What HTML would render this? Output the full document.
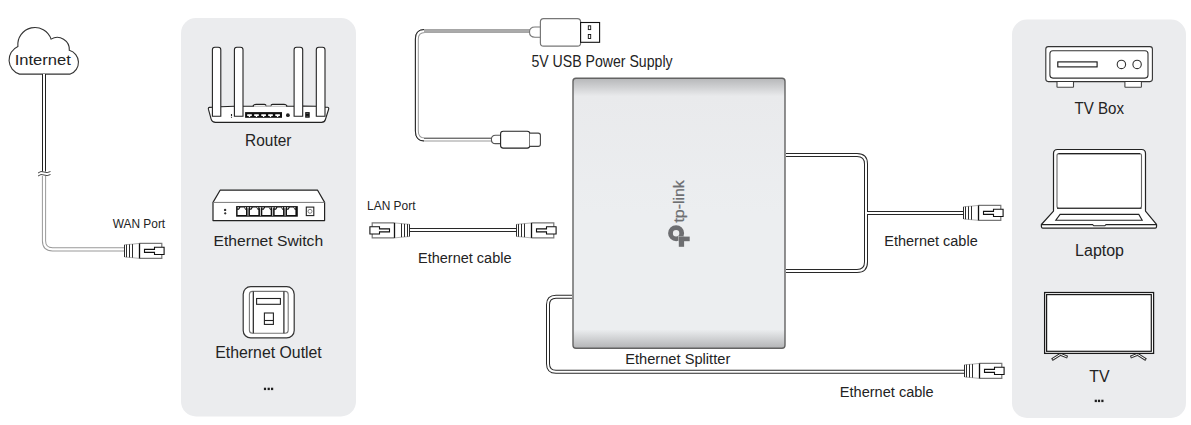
<!DOCTYPE html>
<html><head><meta charset="utf-8">
<style>
html,body{margin:0;padding:0;background:#fff;}
body{width:1191px;height:425px;overflow:hidden;position:relative;}
svg{position:absolute;left:0;top:0;display:block;}
text{font-family:"Liberation Sans",sans-serif;fill:#232323;}
</style></head><body>
<svg width="1191" height="425" viewBox="0 0 1191 425">
<defs>
<linearGradient id="spg" x1="0" y1="0" x2="0" y2="1">
<stop offset="0" stop-color="#b6b7b9"/>
<stop offset="0.066" stop-color="#e9eaec"/>
<stop offset="0.5" stop-color="#eceef0"/>
<stop offset="0.93" stop-color="#eceef0"/>
<stop offset="1" stop-color="#b3b4b6"/>
</linearGradient>
<g id="plug">
<path d="M-15,-6.1 L0,-7.5 L0,7.5 L-15,6.1 Z" fill="#fff" stroke="none"/>
<path d="M-15,-6.1 L-7,-6.8 L0,-7.5 M-15,6.1 L-7,6.8 L0,7.5" fill="none" stroke="#aaa" stroke-width="0.9"/>
<path d="M0,-7.5 H22.3 V-3.6 M22.3,3.6 V7.5 H0" fill="none" stroke="#777" stroke-width="1.2"/>
<path d="M-15,-6.1 V6.1 M-13,-6.3 V6.3 M-10,-6.5 V6.5 M-7,-6.8 V6.8" fill="none" stroke="#222" stroke-width="0.95"/>
<path d="M0,-7.5 V7.5" fill="none" stroke="#111" stroke-width="1.3"/>
<path d="M5,-1.5 H15 V-3.6 H24.6 V3.6 H15 V1.5 H5 Z" fill="#fff" stroke="#111" stroke-width="1.1"/>
</g>
</defs>

<!-- panels -->
<rect x="181" y="18" width="175" height="398.5" rx="15" fill="#ebecee"/>
<rect x="1012" y="19.5" width="174" height="398.5" rx="15" fill="#ebecee"/>

<!-- Internet cloud -->
<path d="M19.5,74.1 A14.8,14.8 0 0 1 17.9,46.4 A17.1,17.1 0 0 1 51.1,39.1 A12.1,12.1 0 0 1 69.3,50.3 A12.5,12.5 0 0 1 70.2,74.1 Z" fill="#fff" stroke="#333" stroke-width="1.1"/>
<text x="14.7" y="64.8" font-size="15.3" textLength="56.2" lengthAdjust="spacingAndGlyphs">Internet</text>

<!-- internet cable -->
<path d="M44,74 V172" fill="none" stroke="#222" stroke-width="4"/>
<path d="M44,74 V172" fill="none" stroke="#fff" stroke-width="2"/>
<path d="M44,176 V240.8 Q44,249.3 52.5,249.3 H125" fill="none" stroke="#999" stroke-width="4.2"/>
<path d="M44,176 V240.8 Q44,249.3 52.5,249.3 H125" fill="none" stroke="#fff" stroke-width="2.2"/>
<rect x="36" y="171.5" width="16" height="4.5" fill="#fff"/>
<path d="M38,173 Q41,170.5 44,172 T50.5,171.5 M38,176 Q41,173.5 44,175 T50.5,174.5" fill="none" stroke="#333" stroke-width="0.9"/>
<use href="#plug" transform="translate(139.5,250.9)"/>
<text x="112.7" y="227.6" font-size="12.4" textLength="52.5" lengthAdjust="spacingAndGlyphs">WAN Port</text>

<!-- router -->
<g stroke="#222" stroke-width="1.1" fill="#fff">
<path d="M209.5,107.4 L220.8,106.8 L234.4,106.2 L243,106.2 L253,106.2 Q254,104.4 256,104.4 L264.5,104.4 Q266,104.4 266.2,106 L270.8,106 Q271,104.4 272.5,104.4 L284,104.4 Q286,104.4 287,106.2 L294.1,106.2 L302.7,106.1 L316.3,106.3 L327.5,107.3 Q329,107.4 328.7,109 L325.4,119.5 Q324.6,122.4 321.5,122.4 L215.5,122.4 Q212.2,122.4 211.2,119.3 L208.4,109.2 Q208.1,107.5 209.5,107.4 Z" stroke="none"/>
<path d="M212.6,107.2 L209.5,107.4 Q208.1,107.5 208.4,109.2 L211.2,119.3 Q212.2,122.4 215.5,122.4 L321.5,122.4 Q324.6,122.4 325.4,119.5 L328.7,109 Q329,107.4 327.5,107.3 L325,107.2 M220.8,106.8 L234.4,106.2 M243,106.2 L254,106.2 M252.8,106 Q254,104.4 256,104.4 L264.5,104.4 Q266,104.4 266.2,106.2 M270.8,106.2 Q271,104.4 272.5,104.4 L284,104.4 Q286,104.4 287.2,106 M286,106.2 L294.1,106.2 M302.7,106.1 L316.3,106.3" fill="none"/>
<path d="M212.4,116.2 V49.7 Q212.4,47.2 214.9,47.2 H218.3 Q220.8,47.2 220.8,49.7 V116.2 Z"/>
<path d="M234.4,116.2 V49.7 Q234.4,47.2 236.9,47.2 H240.5 Q243,47.2 243,49.7 V116.2 Z"/>
<path d="M294.1,116.3 V49.7 Q294.1,47.2 296.6,47.2 H300.2 Q302.7,47.2 302.7,49.7 V116.3 Z"/>
<path d="M316.3,116.3 V49.7 Q316.3,47.2 318.8,47.2 H322.5 Q325,47.2 325,49.7 V116.3 Z"/>
</g>
<path d="M254,106.3 H286" stroke="#aaa" stroke-width="0.8"/><path d="M266,106 H271" stroke="#999" stroke-width="1.2"/>
<rect x="245.1" y="112.1" width="36.9" height="5.7" fill="#111"/>
<g fill="#fff">
<path d="M247.2,114.2 h4.6 v1.7 h-1.6 v1.1 h-1.4 v-1.1 h-1.6 z"/>
<path d="M254.2,114.2 h4.6 v1.7 h-1.6 v1.1 h-1.4 v-1.1 h-1.6 z"/>
<path d="M261.3,114.2 h4.6 v1.7 h-1.6 v1.1 h-1.4 v-1.1 h-1.6 z"/>
<path d="M268.2,114.2 h4.6 v1.7 h-1.6 v1.1 h-1.4 v-1.1 h-1.6 z"/>
<path d="M275.3,114.2 h4.6 v1.7 h-1.6 v1.1 h-1.4 v-1.1 h-1.6 z"/>
</g>
<circle cx="287.9" cy="115.2" r="1.9" fill="#222"/>
<rect x="305.2" y="112.1" width="4.5" height="5.6" fill="#111"/>
<path d="M306.3,113.5 h2.2 M306.3,116.3 h2.2" stroke="#888" stroke-width="0.6"/>
<path d="M231.5,114 V116.1 M231.5,116.8 V117.7" stroke="#222" stroke-width="1.1"/>

<!-- switch -->
<path d="M220.1,190.2 H317.6 L324.6,202.4 V220.6 H213 V202.4 Z" fill="#fff" stroke="#222" stroke-width="1.2" stroke-linejoin="round"/>
<path d="M213,202.4 H324.6" stroke="#777" stroke-width="1"/>
<rect x="236.1" y="206.1" width="61.7" height="10.6" fill="#111"/>
<path d="M237.60,214.9 V209.7 H239.00 L240.40,207.4 H244.00 L245.40,209.7 H246.00 V214.9 Z" fill="#fff"/>
<path d="M237.60,207.3 H239.20 L238.60,208.5 H237.60 Z M244.50,207.3 H246.00 V208.5 H245.30 Z" fill="#fff"/>
<path d="M246.80,207.3 H249.20 L248.40,208.5 V215.8 H247.60 V208.5 Z" fill="#fff"/>
<path d="M249.95,214.9 V209.7 H251.35 L252.75,207.4 H256.35 L257.75,209.7 H258.35 V214.9 Z" fill="#fff"/>
<path d="M249.95,207.3 H251.55 L250.95,208.5 H249.95 Z M256.85,207.3 H258.35 V208.5 H257.65 Z" fill="#fff"/>
<path d="M259.15,207.3 H261.55 L260.75,208.5 V215.8 H259.95 V208.5 Z" fill="#fff"/>
<path d="M262.30,214.9 V209.7 H263.70 L265.10,207.4 H268.70 L270.10,209.7 H270.70 V214.9 Z" fill="#fff"/>
<path d="M262.30,207.3 H263.90 L263.30,208.5 H262.30 Z M269.20,207.3 H270.70 V208.5 H270.00 Z" fill="#fff"/>
<path d="M271.50,207.3 H273.90 L273.10,208.5 V215.8 H272.30 V208.5 Z" fill="#fff"/>
<path d="M274.65,214.9 V209.7 H276.05 L277.45,207.4 H281.05 L282.45,209.7 H283.05 V214.9 Z" fill="#fff"/>
<path d="M274.65,207.3 H276.25 L275.65,208.5 H274.65 Z M281.55,207.3 H283.05 V208.5 H282.35 Z" fill="#fff"/>
<path d="M283.85,207.3 H286.25 L285.45,208.5 V215.8 H284.65 V208.5 Z" fill="#fff"/>
<path d="M287.00,214.9 V209.7 H288.40 L289.80,207.4 H293.40 L294.80,209.7 H295.40 V214.9 Z" fill="#fff"/>
<path d="M287.00,207.3 H288.60 L288.00,208.5 H287.00 Z M293.90,207.3 H295.40 V208.5 H294.70 Z" fill="#fff"/>
<rect x="306.3" y="207.1" width="7.5" height="8.5" fill="#fff" stroke="#222" stroke-width="1.1"/>
<circle cx="310" cy="211.3" r="2" fill="none" stroke="#666" stroke-width="0.8"/>
<circle cx="225.1" cy="209.9" r="1.2" fill="#333"/>
<path d="M223.8,213.3 L225.2,211.9 L226.6,213.3 L225.2,214.7 Z" fill="#333"/>

<!-- outlet -->
<rect x="243.2" y="286.7" width="51" height="51.2" rx="7.5" fill="#fff" stroke="#333" stroke-width="1.2"/>
<rect x="249.4" y="291.4" width="38.8" height="41.8" rx="3" fill="#fff" stroke="#777" stroke-width="1.1"/>
<path d="M253.3,291.4 V333.2 M283.9,291.4 V333.2" stroke="#222" stroke-width="1.2"/>
<rect x="256.6" y="298.5" width="23.8" height="5.8" fill="#fff" stroke="#222" stroke-width="1.1"/>
<rect x="264.4" y="313" width="9" height="11.4" fill="#fff" stroke="#222" stroke-width="1.1"/>
<path d="M264.4,320.5 H273.4" stroke="#222" stroke-width="1.1"/>

<!-- left panel labels -->
<text x="245.1" y="145.8" font-size="15.8" textLength="46.3" lengthAdjust="spacingAndGlyphs">Router</text>
<text x="213.5" y="245.7" font-size="15.5" textLength="109.6" lengthAdjust="spacingAndGlyphs">Ethernet Switch</text>
<text x="215.2" y="357.9" font-size="15.8" textLength="106.6" lengthAdjust="spacingAndGlyphs">Ethernet Outlet</text>
<g fill="#1e1e1e"><rect x="263.9" y="387.7" width="2.2" height="2.4"/><rect x="267.6" y="387.7" width="2.2" height="2.4"/><rect x="271" y="387.7" width="2.2" height="2.4"/></g>

<!-- LAN cable -->
<path d="M409,230 H517" fill="none" stroke="#282828" stroke-width="4"/>
<path d="M409,230 H517" fill="none" stroke="#fff" stroke-width="2"/>
<use href="#plug" transform="translate(394.5,230.4) scale(-1,1)"/>
<use href="#plug" transform="translate(531.5,230.4)"/>
<text x="367.1" y="209.7" font-size="12.8" textLength="48.4" lengthAdjust="spacingAndGlyphs">LAN Port</text>
<text x="418.0" y="262.7" font-size="15.3" textLength="93.5" lengthAdjust="spacingAndGlyphs">Ethernet cable</text>

<!-- USB cable -->
<path d="M530,31 H425 Q416.8,31 416.8,39 V131 Q416.8,139.6 425,139.6 H492" fill="none" stroke="#999" stroke-width="4"/>
<path d="M530,31 H425 Q416.8,31 416.8,39 V131 Q416.8,139.6 425,139.6 H492" fill="none" stroke="#fff" stroke-width="2"/>
<path d="M424,29.5 Q415.4,29.5 415.4,39 V131 Q415.4,141 424,141" fill="none" stroke="#222" stroke-width="1"/>
<path d="M424,138.4 H492" fill="none" stroke="#666" stroke-width="1"/>
<rect x="424" y="29.2" width="106" height="3.6" fill="#aaa"/>
<text x="531.4" y="66.7" font-size="15.7" textLength="141.2" lengthAdjust="spacingAndGlyphs">5V USB Power Supply</text>

<!-- Splitter -->
<rect x="573" y="78.3" width="212" height="270" rx="3" fill="url(#spg)" stroke="#636363" stroke-width="1.4"/>
<text x="625.2" y="363.9" font-size="15.5" textLength="105.1" lengthAdjust="spacingAndGlyphs">Ethernet Splitter</text>

<!-- right cables -->
<path d="M786,155 H857 Q866,155 866,164 V262 Q866,271 857,271 H786" fill="none" stroke="#282828" stroke-width="4"/>
<path d="M866,213 H965" fill="none" stroke="#282828" stroke-width="4"/>
<path d="M786,155 H857 Q866,155 866,164 V262 Q866,271 857,271 H786" fill="none" stroke="#fff" stroke-width="2"/>
<path d="M866,213 H965" fill="none" stroke="#fff" stroke-width="2"/>
<use href="#plug" transform="translate(978.5,212.9)"/>
<text x="884.3" y="245.8" font-size="15.5" textLength="93.4" lengthAdjust="spacingAndGlyphs">Ethernet cable</text>

<path d="M572,296.8 H556 Q548,296.8 548,304.8 V363.8 Q548,371.8 556,371.8 H965" fill="none" stroke="#282828" stroke-width="4"/>
<path d="M572,296.8 H556 Q548,296.8 548,304.8 V363.8 Q548,371.8 556,371.8 H965" fill="none" stroke="#fff" stroke-width="2"/>
<use href="#plug" transform="translate(979.5,370.9)"/>
<text x="839.8" y="396.8" font-size="15.4" textLength="93.9" lengthAdjust="spacingAndGlyphs">Ethernet cable</text>


<!-- USB-A connector -->
<path d="M540.4,27 H535 Q529.5,27 529.5,32.1 Q529.5,37.3 535,37.3 H540.4" fill="#fff" stroke="#777" stroke-width="1.1"/>
<rect x="540.4" y="18.6" width="40.2" height="27.6" rx="3.2" fill="#fff" stroke="#777" stroke-width="1.2"/>
<rect x="580.6" y="22.5" width="19" height="19.8" fill="#fff" stroke="#111" stroke-width="1.1"/>
<rect x="588.3" y="25.8" width="2.4" height="3.8" fill="#fff" stroke="#111" stroke-width="0.9"/>
<rect x="588.3" y="34.5" width="2.4" height="4" fill="#fff" stroke="#111" stroke-width="0.9"/>
<!-- USB-C connector -->
<path d="M500.6,135.2 H495.5 Q491.4,135.2 491.4,139.4 Q491.4,143.6 495.5,143.6 H500.6" fill="#fff" stroke="#555" stroke-width="1.1"/>
<rect x="500.6" y="131.2" width="29.2" height="16.9" rx="2.6" fill="#fff" stroke="#222" stroke-width="1.1"/>
<path d="M529.8,133.1 H538.2 Q540.4,133.1 540.4,135.3 V144.2 Q540.4,146.4 538.2,146.4 H529.8" fill="#fff" stroke="#444" stroke-width="1.1"/>

<!-- tp-link logo -->
<text transform="translate(683.9,222.6) rotate(-90)" font-size="14" textLength="42.4" lengthAdjust="spacingAndGlyphs" style="fill:#6d6e71;stroke:#6d6e71;stroke-width:0.25">tp-link</text>
<circle cx="676.1" cy="233.2" r="5.6" fill="none" stroke="#6d6e71" stroke-width="4.8"/>
<rect x="678.3" y="236.1" width="7" height="6.5" fill="#eceef0"/>
<g fill="#6d6e71">
<rect x="678.8" y="236.6" width="10.9" height="4.6"/>
<rect x="678.8" y="236.6" width="5.3" height="10.2"/>
</g>

<!-- TV box -->
<rect x="1045.8" y="46.6" width="106.6" height="35" rx="2.5" fill="#fff" stroke="#333" stroke-width="1.1"/>
<rect x="1049.9" y="50.7" width="98.1" height="27.4" rx="3" fill="#fff" stroke="#333" stroke-width="1.1"/>
<rect x="1057.8" y="61.9" width="39.3" height="5" fill="#fff" stroke="#111" stroke-width="1.1"/>
<circle cx="1121.4" cy="64.4" r="4.2" fill="#fff" stroke="#333" stroke-width="1.1"/>
<circle cx="1137.1" cy="64.4" r="4.2" fill="#fff" stroke="#333" stroke-width="1.1"/>
<path d="M1057,82.1 V86.7 Q1057,87.2 1057.5,87.2 H1073 Q1073.5,87.2 1073.5,86.7 V82.1 M1124.9,82.1 V86.7 Q1124.9,87.2 1125.4,87.2 H1140.9 Q1141.4,87.2 1141.4,86.7 V82.1" fill="#fff" stroke="#444" stroke-width="1.1"/>

<!-- Laptop -->
<path d="M1053.5,211.1 V153.5 Q1053.5,149.5 1057.5,149.5 H1141.5 Q1145.5,149.5 1145.5,153.5 V211.1 L1156.5,224.3 Q1157,228.2 1155,228.2 H1043 Q1041,228.2 1041.4,224.5 Z" fill="#fff" stroke="#222" stroke-width="1.2" stroke-linejoin="round"/>
<rect x="1057" y="153.6" width="84.5" height="54.6" rx="2" fill="#fff" stroke="#666" stroke-width="1.1"/>
<path d="M1057,208.2 H1141.5 M1058.5,153.6 H1140" stroke="#222" stroke-width="1.1"/>
<path d="M1060.1,214.4 H1138.8 L1142.2,220.2 H1055.8 Z" fill="#fff" stroke="#222" stroke-width="1.1"/>
<path d="M1041.4,224.6 H1092.6 L1093.8,225.8 H1104.8 L1106,224.6 H1156.5" fill="none" stroke="#222" stroke-width="1.1"/>

<!-- TV -->
<path d="M1051.9,359.7 L1060.5,354.3 L1067.6,357.2 M1146.1,359.7 L1137.5,354.3 L1130.4,357.2" fill="none" stroke="#333" stroke-width="2.9" stroke-linejoin="round"/>
<path d="M1052.8,359.1 L1060.5,354.3 L1066.7,356.8 M1145.2,359.1 L1137.5,354.3 L1131.3,356.8" fill="none" stroke="#fff" stroke-width="1" stroke-linejoin="round"/>
<rect x="1044.6" y="292.5" width="109" height="60.9" fill="#fff" stroke="#1a1a1a" stroke-width="1.25"/>
<rect x="1046.6" y="294.6" width="104.7" height="56.7" fill="#fff" stroke="#1a1a1a" stroke-width="1.2"/>

<!-- right panel labels -->
<text x="1074.5" y="113.8" font-size="15.8" textLength="49.5" lengthAdjust="spacingAndGlyphs">TV Box</text>
<text x="1075.1" y="256" font-size="16" textLength="48.9" lengthAdjust="spacingAndGlyphs">Laptop</text>
<text x="1089.3" y="382.1" font-size="16.4" textLength="20.3" lengthAdjust="spacingAndGlyphs">TV</text>
<g fill="#1e1e1e"><rect x="1094.7" y="399.7" width="2.2" height="2.4"/><rect x="1097.9" y="399.7" width="2.2" height="2.4"/><rect x="1101.3" y="399.7" width="2.2" height="2.4"/></g>

</svg>
</body></html>
